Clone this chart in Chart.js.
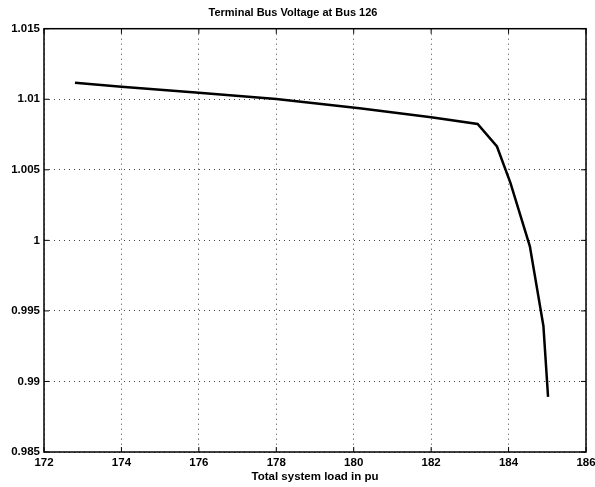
<!DOCTYPE html>
<html>
<head>
<meta charset="utf-8">
<script src="https://cdn.jsdelivr.net/npm/chart.js@4.4.0/dist/chart.umd.min.js"></script>
<style>
  html, body { margin: 0; padding: 0; background: #fff; }
  #wrap { width: 595px; height: 487px; }
</style>
</head>
<body>
<div id="wrap"><canvas id="voltChart" width="595" height="487"></canvas></div>
<script>
// total system load (pu) and terminal voltage at bus 126
const loadPu = [172.8, 174.0, 176.0, 178.0, 180.15, 182.0, 183.2, 183.7, 184.05, 184.55, 184.9, 185.02];
const voltage = [1.01117, 1.01089, 1.01046, 1.01002, 1.00936, 1.00872, 1.00825, 1.00665, 1.00406, 0.99958, 0.99393, 0.98891];

const xTicks = [172, 174, 176, 178, 180, 182, 184, 186];
const yTicks = [0.985, 0.99, 0.995, 1, 1.005, 1.01, 1.015];

const points = loadPu.map((x, i) => ({ x: x, y: voltage[i] }));

const font = { family: "'Liberation Sans', Arial, sans-serif", size: 11.5, weight: 'bold' };

// box + inward tick marks, matlab style
const frame = {
    id: 'frame',
    afterDatasetsDraw(chart) {
        const c = chart.ctx, a = chart.chartArea;
        const xs = chart.scales.x, ys = chart.scales.y;
        c.save();
        c.strokeStyle = '#000';
        c.lineWidth = 1.5;
        c.strokeRect(a.left, a.top, a.right - a.left, a.bottom - a.top);
        c.lineWidth = 1;
        c.beginPath();
        xTicks.forEach(v => {
            const px = xs.getPixelForValue(v);
            c.moveTo(px, a.bottom); c.lineTo(px, a.bottom - 5);
            c.moveTo(px, a.top); c.lineTo(px, a.top + 5);
        });
        yTicks.forEach(v => {
            const py = ys.getPixelForValue(v);
            c.moveTo(a.left, py); c.lineTo(a.left + 5, py);
            c.moveTo(a.right, py); c.lineTo(a.right - 5, py);
        });
        c.stroke();
        c.restore();
    }
};

new Chart(document.getElementById('voltChart').getContext('2d'), {
    type: 'scatter',
    data: {
        datasets: [{
            data: points,
            showLine: true,
            borderColor: '#000',
            borderWidth: 2.5,
            pointRadius: 0,
            tension: 0
        }]
    },
    options: {
        responsive: false,
        animation: false,
        layout: { padding: { left: 0, right: 9, top: 0, bottom: 0 } },
        plugins: {
            legend: { display: false },
            tooltip: { enabled: false },
            title: {
                display: true,
                text: 'Terminal Bus Voltage at Bus 126',
                color: '#000',
                font: { family: font.family, size: 11, weight: 'bold' },
                padding: { top: 6.5, bottom: 9 }
            }
        },
        scales: {
            x: {
                type: 'linear',
                min: 172, max: 186,
                afterBuildTicks: s => { s.ticks = xTicks.map(v => ({ value: v })); },
                afterFit: s => { s.height = 35; s.paddingLeft = 0; s.paddingRight = 0; },
                grid: { color: '#444', lineWidth: 1, drawTicks: false },
                border: { display: false, dash: [1, 4] },
                ticks: { color: '#000', font: font, padding: 4, maxRotation: 0 },
                title: {
                    display: true,
                    text: 'Total system load in pu',
                    color: '#000',
                    font: font,
                    padding: { top: 0, bottom: 3 }
                }
            },
            y: {
                type: 'linear',
                min: 0.985, max: 1.015,
                afterBuildTicks: s => { s.ticks = yTicks.map(v => ({ value: v })); },
                afterFit: s => { s.width = 44; },
                grid: { color: '#444', lineWidth: 1, drawTicks: false },
                border: { display: false, dash: [1, 4] },
                ticks: {
                    color: '#000', font: font, padding: 4,
                    callback: v => String(+v.toFixed(3))
                }
            }
        }
    },
    plugins: [frame]
});
</script>
</body>
</html>
